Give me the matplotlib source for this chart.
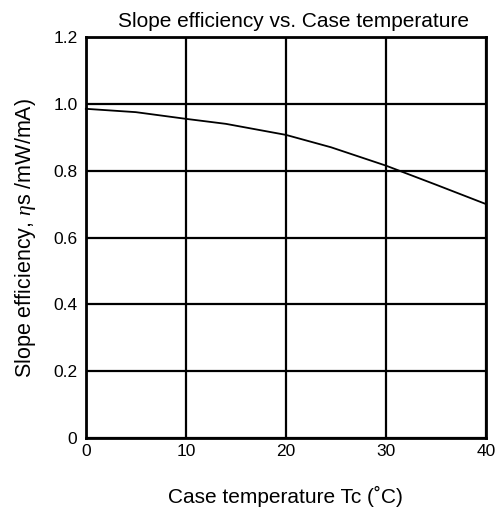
import numpy as np
import matplotlib.pyplot as plt

plt.rcParams['font.family'] = ['Liberation Sans', 'DejaVu Sans']
plt.rcParams['mathtext.fontset'] = 'custom'
plt.rcParams['mathtext.it'] = 'Liberation Serif:italic'

# values
temp = [0, 5, 10, 14, 20, 24.5, 30, 35, 40]
eff = [0.985, 0.975, 0.955, 0.940, 0.907, 0.870, 0.815, 0.758, 0.700]

x_ticks = [0, 10, 20, 30, 40]
y_ticks = [0, 0.2, 0.4, 0.6, 0.8, 1.0, 1.2]
y_labels = ['0', '0.2', '0.4', '0.6', '0.8', '1.0', '1.2']

fig = plt.figure(figsize=(4.99, 5.13), dpi=100)
ax = fig.add_axes([0.172, 0.146, 0.802, 0.782])

ax.plot(temp, eff, color='k', lw=1.3, clip_on=False, zorder=3)

ax.set_xlim(0, 40)
ax.set_ylim(0, 1.2)
ax.set_xticks(x_ticks)
ax.set_yticks(y_ticks)
ax.set_yticklabels(y_labels)
ax.tick_params(length=0, labelsize=12.5)
ax.tick_params(axis='y', pad=6)
ax.tick_params(axis='x', pad=4)
ax.grid(True, color='k', lw=1.6)
for s in ax.spines.values():
    s.set_linewidth(2)

ax.set_title('Slope efficiency vs. Case temperature', fontsize=15, pad=7, x=0.518)
ax.set_xlabel('Case temperature Tc (˚C)', fontsize=15, labelpad=20)
ax.set_ylabel(r'Slope efficiency, $\eta$s /mW/mA)', fontsize=15.5, labelpad=11)

fig.savefig('out.png', dpi=100)
